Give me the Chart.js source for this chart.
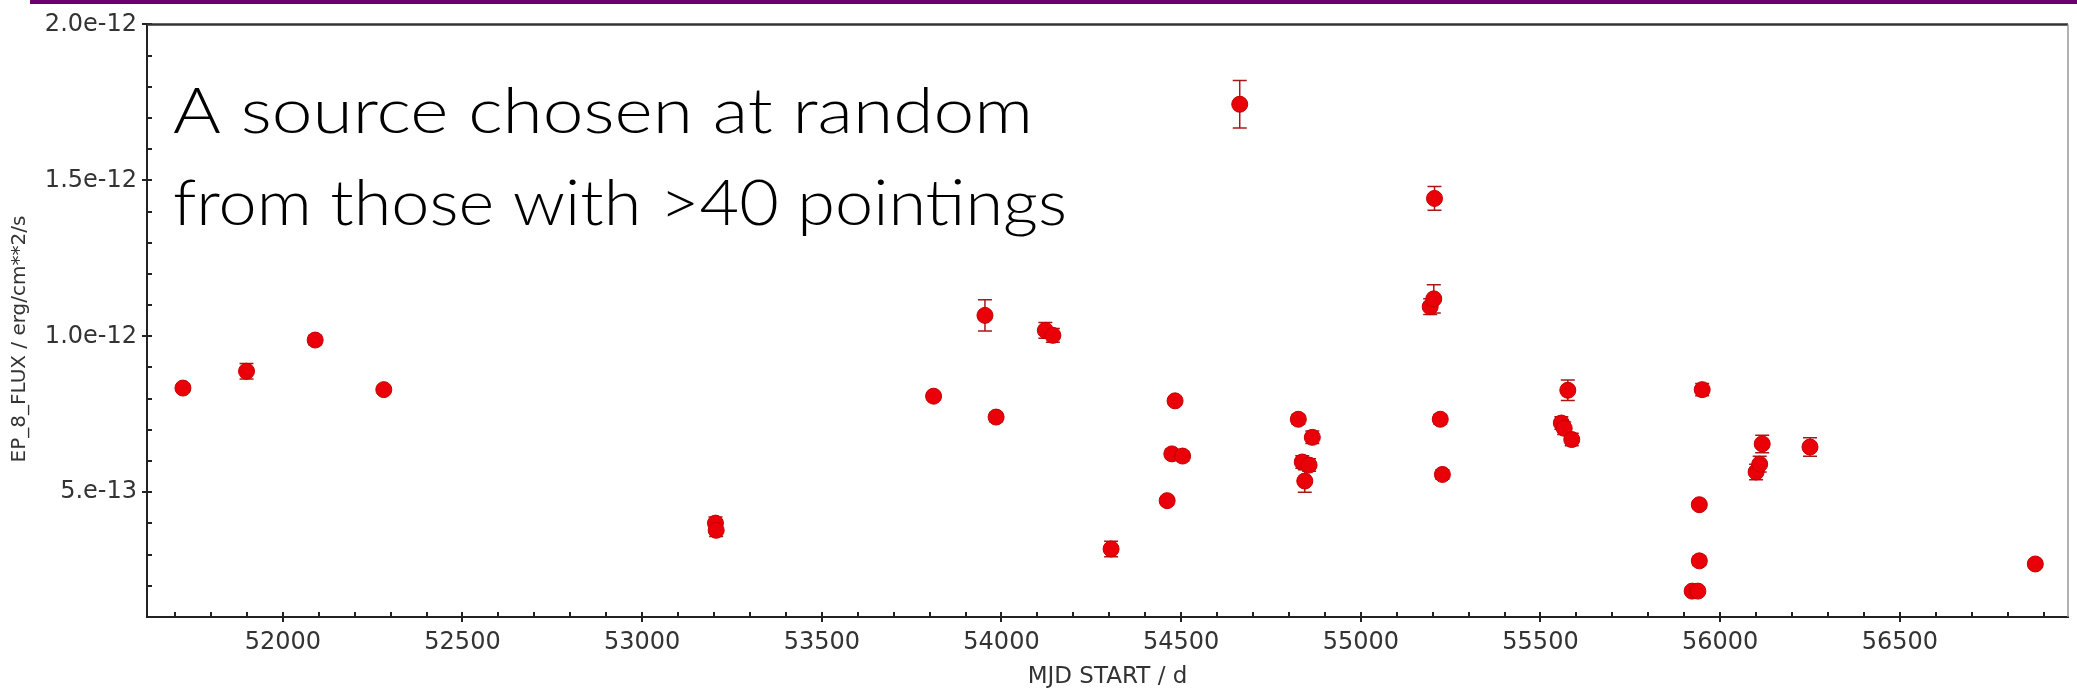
<!DOCTYPE html>
<html>
<head>
<meta charset="utf-8">
<script src="https://cdn.jsdelivr.net/npm/chart.js@4.4.1/dist/chart.umd.min.js"></script>
<style>
  html, body { margin: 0; padding: 0; background: #fff; }
  #wrap { position: relative; width: 2077px; height: 694px; }
</style>
</head>
<body>
<div id="wrap"><canvas id="lightCurve" width="2077" height="694"></canvas></div>
<script>
// light curve of one source
const mjd = [51722, 51899, 52090, 52281, 53204, 53206, 53811, 53954, 53985, 54122,
             54143, 54305, 54461, 54474, 54483, 54504, 54663, 54826, 54837, 54844,
             54856, 54865, 55193, 55203, 55205, 55221, 55227, 55558, 55566, 55576,
             55587, 55922, 55938, 55942, 55942, 55950, 56100, 56110, 56117, 56250,
             56877];
const flux = [8.34e-13, 8.88e-13, 9.88e-13, 8.29e-13, 4.01e-13, 3.78e-13, 8.08e-13, 1.067e-12, 7.41e-13, 1.019e-12,
              1.003e-12, 3.18e-13, 4.73e-13, 6.23e-13, 7.93e-13, 6.16e-13, 1.744e-12, 7.34e-13, 5.97e-13, 5.36e-13,
              5.87e-13, 6.76e-13, 1.095e-12, 1.12e-12, 1.442e-12, 7.34e-13, 5.57e-13, 7.22e-13, 7.05e-13, 8.27e-13,
              6.69e-13, 1.83e-13, 1.83e-13, 2.80e-13, 4.60e-13, 8.29e-13, 5.65e-13, 5.90e-13, 6.55e-13, 6.45e-13,
              2.70e-13];
const fluxErr = [1.2e-14, 2.5e-14, 1.5e-14, 1.2e-14, 2.0e-14, 2.0e-14, 1.2e-14, 5.0e-14, 1.5e-14, 2.5e-14,
                 2.2e-14, 2.5e-14, 1.2e-14, 1.5e-14, 1.2e-14, 1.5e-14, 7.6e-14, 1.5e-14, 2.0e-14, 3.6e-14,
                 2.0e-14, 2.0e-14, 2.5e-14, 4.5e-14, 3.8e-14, 1.5e-14, 1.5e-14, 2.0e-14, 2.0e-14, 3.3e-14,
                 2.0e-14, 1.2e-14, 1.2e-14, 1.5e-14, 1.2e-14, 2.0e-14, 2.5e-14, 2.5e-14, 2.8e-14, 3.0e-14,
                 1.2e-14];

// axes
const xMin = 51622, xMax = 56968;
const xMajor = [52000, 52500, 53000, 53500, 54000, 54500, 55000, 55500, 56000, 56500];
const xMinorStep = 100;
const yMin = 1e-13, yMax = 2e-12;
const yMajor = [5e-13, 1e-12, 1.5e-12, 2e-12];
const yLabels = ["5.e-13", "1.0e-12", "1.5e-12", "2.0e-12"];
const yMinorStep = 1e-13;

const noteLines = ["A source chosen at random", "from those with >40 pointings"];

const axisInk = "#222";
const labelInk = "#333";

// purple strip at the very top of the slide
const slideStrip = {
  id: "slideStrip",
  beforeDraw(chart) {
    const ctx = chart.ctx;
    ctx.save();
    ctx.fillStyle = "#6c0070";
    ctx.fillRect(30, 0, chart.width - 30, 4);
    ctx.restore();
  },
};

// vertical error bars, drawn under the markers
const errorBars = {
  id: "errorBars",
  beforeDatasetsDraw(chart) {
    const { ctx, scales: { x, y } } = chart;
    ctx.save();
    ctx.strokeStyle = "#a81818";
    ctx.lineWidth = 1.5;
    mjd.forEach((m, i) => {
      const px = x.getPixelForValue(m);
      const top = y.getPixelForValue(flux[i] + fluxErr[i]);
      const bot = y.getPixelForValue(flux[i] - fluxErr[i]);
      ctx.beginPath();
      ctx.moveTo(px, top); ctx.lineTo(px, bot);
      ctx.moveTo(px - 7, top); ctx.lineTo(px + 7, top);
      ctx.moveTo(px - 7, bot); ctx.lineTo(px + 7, bot);
      ctx.stroke();
    });
    ctx.restore();
  },
};

// tick marks (major cross the axis, minor point inwards), frame, y title, note
const frameAndTicks = {
  id: "frameAndTicks",
  afterDraw(chart) {
    const { ctx, chartArea: a, scales: { x, y } } = chart;
    ctx.save();
    ctx.strokeStyle = axisInk;
    ctx.lineWidth = 2;
    ctx.beginPath();
    for (let v = Math.ceil(xMin / xMinorStep) * xMinorStep; v <= xMax; v += xMinorStep) {
      const px = Math.round(x.getPixelForValue(v));
      const major = xMajor.includes(v);
      ctx.moveTo(px, a.bottom + (major ? 5 : 0));
      ctx.lineTo(px, a.bottom - 5);
    }
    for (let k = 2; k <= 20; k++) {
      const v = k * yMinorStep;
      const py = Math.round(y.getPixelForValue(v));
      const major = k % 5 === 0;
      ctx.moveTo(a.left - (major ? 5 : 0), py);
      ctx.lineTo(a.left + 5, py);
    }
    ctx.stroke();

    // top and right frame
    ctx.strokeStyle = "#333";
    ctx.lineWidth = 2.5;
    ctx.beginPath();
    ctx.moveTo(a.left, a.top);
    ctx.lineTo(a.right, a.top);
    ctx.stroke();
    ctx.strokeStyle = "#999";
    ctx.lineWidth = 1.5;
    ctx.beginPath();
    ctx.moveTo(a.right, a.top);
    ctx.lineTo(a.right, a.bottom);
    ctx.stroke();

    // y axis title
    ctx.fillStyle = labelInk;
    ctx.font = "20px 'DejaVu Sans'";
    ctx.textAlign = "center";
    ctx.textBaseline = "middle";
    ctx.translate(20, 339);
    ctx.rotate(-Math.PI / 2);
    ctx.fillText("EP_8_FLUX / erg/cm**2/s", 0, 0);
    ctx.restore();

    // slide annotation, each line stretched to the width it has on the slide
    const noteWidths = [860, 894];
    const noteBase = [133, 225];
    noteLines.forEach((line, i) => {
      ctx.save();
      ctx.fillStyle = "#000";
      ctx.font = "300 64px Lato";
      ctx.textAlign = "left";
      ctx.textBaseline = "alphabetic";
      const sx = noteWidths[i] / ctx.measureText(line).width;
      ctx.translate(173, noteBase[i]);
      ctx.scale(sx, 1);
      ctx.fillText(line, 0, 0);
      ctx.restore();
    });
  },
};

new Chart(document.getElementById("lightCurve").getContext("2d"), {
  type: "scatter",
  data: {
    datasets: [
      {
        label: "EP_8_FLUX",
        data: mjd.map((m, i) => ({ x: m, y: flux[i] })),
        pointRadius: 8,
        pointHoverRadius: 8,
        backgroundColor: "#ea0008",
        borderColor: "#c40000",
        borderWidth: 1,
      },
    ],
  },
  options: {
    responsive: false,
    animation: false,
    layout: { padding: { left: 0, top: 17, right: 4, bottom: 0 } },
    plugins: {
      legend: { display: false },
      tooltip: { enabled: false },
    },
    scales: {
      x: {
        type: "linear",
        min: xMin,
        max: xMax,
        afterFit: (s) => { s.height = 77; },
        afterBuildTicks: (s) => { s.ticks = xMajor.map((v) => ({ value: v })); },
        grid: { display: false, drawTicks: false },
        border: { display: true, color: axisInk, width: 2 },
        ticks: {
          color: labelInk,
          font: { family: "DejaVu Sans", size: 24 },
          padding: 11,
          maxRotation: 0,
          autoSkip: false,
          callback: (v) => String(v),
        },
        title: {
          display: true,
          text: "MJD START / d",
          color: labelInk,
          font: { family: "DejaVu Sans", size: 23 },
          padding: { top: 0, bottom: 3 },
        },
      },
      y: {
        type: "linear",
        min: yMin,
        max: yMax,
        afterFit: (s) => { s.width = 147; },
        afterBuildTicks: (s) => { s.ticks = yMajor.map((v) => ({ value: v })); },
        grid: { display: false, drawTicks: false },
        border: { display: true, color: axisInk, width: 2 },
        ticks: {
          color: labelInk,
          font: { family: "DejaVu Sans", size: 24 },
          padding: 10,
          autoSkip: false,
          callback: (v, i) => yLabels[i],
        },
      },
    },
  },
  plugins: [slideStrip, errorBars, frameAndTicks],
});
</script>
</body>
</html>
